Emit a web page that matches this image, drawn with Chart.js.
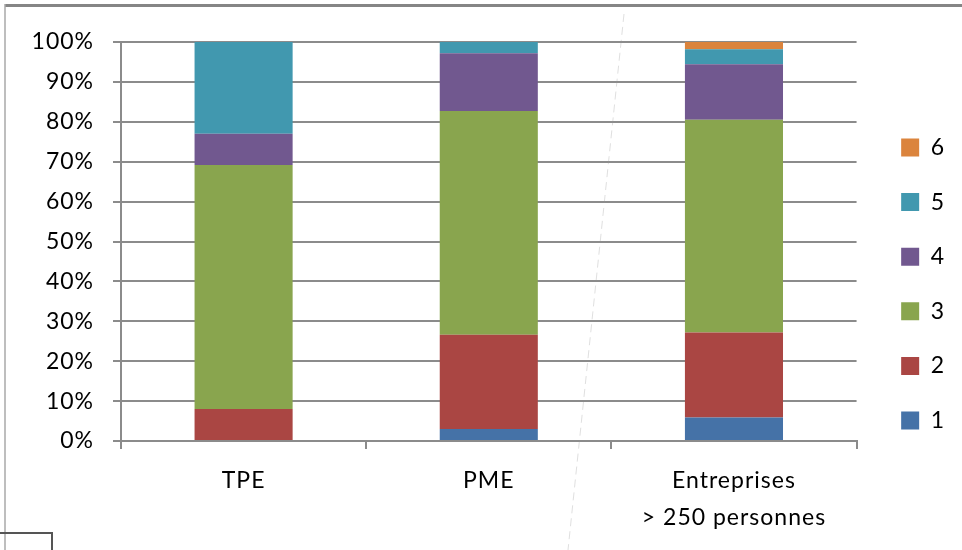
<!DOCTYPE html>
<html>
<head>
<meta charset="utf-8">
<title>Répartition par taille d'entreprise</title>
<script src="https://cdn.jsdelivr.net/npm/chart.js@4/dist/chart.umd.min.js"></script>
<style>
  html, body { margin: 0; padding: 0; background: #ffffff; }
  #wrap { width: 962px; height: 550px; position: relative; overflow: hidden; }
</style>
</head>
<body>
<div id="wrap"><canvas id="c" width="962" height="550"></canvas></div>
<script>
// Categories (company size) and share of each level, in percent
const categories = ['TPE', 'PME', ['Entreprises', '> 250 personnes']];
const seriesNames = ['1', '2', '3', '4', '5', '6'];
const level1 = [0, 3.0, 5.9];
const level2 = [8.0, 23.6, 21.3];
const level3 = [61.2, 56.1, 53.3];
const level4 = [7.8, 14.5, 13.9];
const level5 = [23.0, 2.8, 3.8];
const level6 = [0, 0, 1.8];
const yTicks = [0, 10, 20, 30, 40, 50, 60, 70, 80, 90, 100];

const seriesValues = [level1, level2, level3, level4, level5, level6];
const seriesColors = ['#4572A7', '#AA4643', '#89A54E', '#71588F', '#4198AF', '#DB843D'];

const gridGray = '#8b8b8b';
const fontFamily = 'Lato, "Open Sans", sans-serif';

// Slightly wide lettering for all canvas text
const spacing = {
  id: 'spacing',
  beforeUpdate(chart) { chart.ctx.letterSpacing = '1px'; },
  beforeDraw(chart) { chart.ctx.letterSpacing = '1px'; }
};

// Nudge the legend block to the right and up
const legendPlace = {
  id: 'legendPlace',
  afterLayout(chart) {
    const lg = chart.legend;
    if (!lg) return;
    lg.left += 13; lg.right += 13;
    lg.top -= 12; lg.bottom -= 12;
  }
};

// Outer frame, small corner box and the faint dashed stroke across the page
const frame = {
  id: 'frame',
  afterDraw(chart) {
    const ctx = chart.ctx;
    ctx.save();
    ctx.letterSpacing = '0px';
    ctx.strokeStyle = '#858585';
    ctx.lineWidth = 3;
    ctx.beginPath(); ctx.moveTo(5, 5.5); ctx.lineTo(962, 5.5); ctx.stroke();
    ctx.strokeStyle = '#a8a8a8';
    ctx.lineWidth = 1.5;
    ctx.beginPath(); ctx.moveTo(5, 4); ctx.lineTo(5, 550); ctx.stroke();
    ctx.strokeStyle = '#555555';
    ctx.lineWidth = 2;
    ctx.strokeRect(-2, 533, 54, 30);
    ctx.strokeStyle = 'rgba(150,150,150,0.3)';
    ctx.lineWidth = 1;
    ctx.setLineDash([8, 5]);
    ctx.beginPath(); ctx.moveTo(624, 14); ctx.lineTo(568, 550); ctx.stroke();
    ctx.restore();
  }
};

const datasets = seriesNames.map((name, i) => ({
  label: name,
  data: seriesValues[i],
  backgroundColor: seriesColors[i],
  borderWidth: 0,
  barPercentage: 0.4,
  categoryPercentage: 1.0
}));

new Chart(document.getElementById('c'), {
  type: 'bar',
  data: { labels: categories, datasets: datasets },
  options: {
    responsive: false,
    animation: false,
    devicePixelRatio: 1,
    layout: { padding: { top: 42, right: 20, bottom: 0, left: 0 } },
    plugins: {
      tooltip: { enabled: false },
      legend: {
        position: 'right',
        reverse: true,
        labels: {
          boxWidth: 18,
          boxHeight: 18,
          padding: 31.6,
          color: '#000000',
          font: { family: fontFamily, size: 23 }
        }
      }
    },
    scales: {
      x: {
        stacked: true,
        afterFit(scale) { scale.height = 109; },
        grid: {
          display: true,
          drawOnChartArea: false,
          drawTicks: true,
          tickLength: 8,
          color: gridGray,
          lineWidth: 2
        },
        border: { display: true, color: gridGray, width: 2 },
        ticks: {
          color: '#000000',
          padding: 13,
          maxRotation: 0,
          font: { family: fontFamily, size: 23, lineHeight: 1.6 }
        }
      },
      y: {
        stacked: true,
        min: 0,
        max: 100,
        afterFit(scale) { scale.width = 121; },
        afterBuildTicks(scale) { scale.ticks = yTicks.map(v => ({ value: v })); },
        grid: {
          color: gridGray,
          lineWidth: 2,
          drawTicks: true,
          tickLength: 8
        },
        border: { display: true, color: gridGray, width: 2 },
        ticks: {
          color: '#000000',
          padding: 19,
          font: { family: fontFamily, size: 23 },
          callback: v => v + '%'
        }
      }
    }
  },
  plugins: [spacing, legendPlace, frame]
});
</script>
</body>
</html>
